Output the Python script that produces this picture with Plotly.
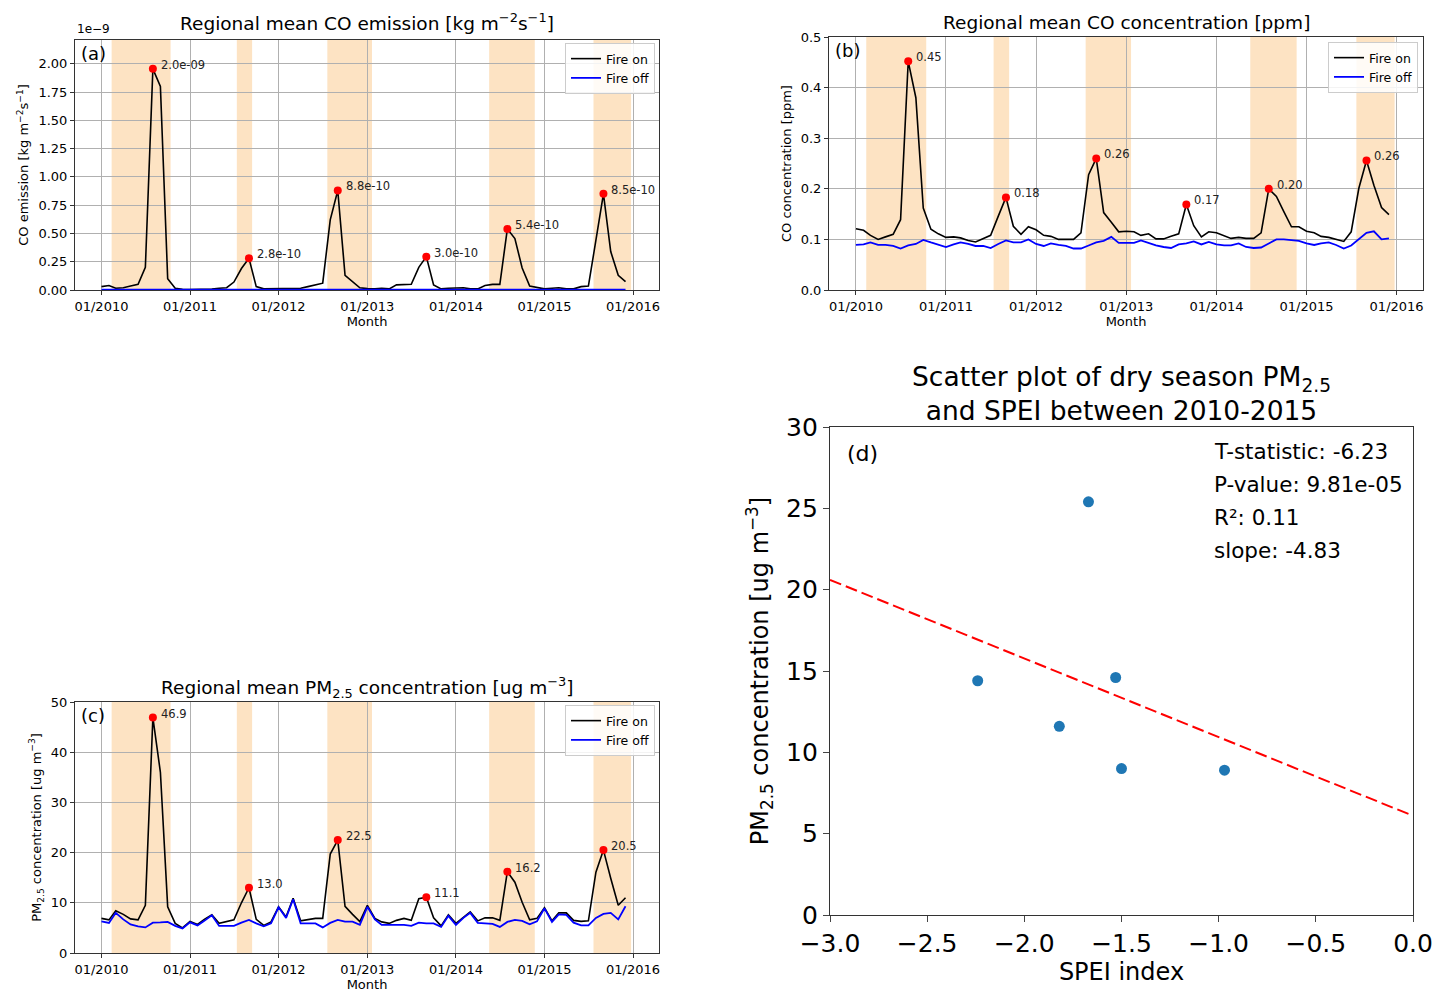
import pandas as pd
import plotly.graph_objects as go

months = pd.date_range("2010-01-01", periods=72, freq="MS")

# CO emission, in units of 1e-9 kg m-2 s-1
co_emis_on = [0.03, 0.04, 0.015, 0.02, 0.035, 0.05, 0.2, 1.955, 1.80, 0.10, 0.015, 0.006,
              0.005, 0.005, 0.005, 0.008, 0.015, 0.02, 0.07, 0.19, 0.28, 0.03, 0.01, 0.01,
              0.01, 0.01, 0.015, 0.015, 0.03, 0.045, 0.06, 0.62, 0.88, 0.13, 0.07, 0.02,
              0.012, 0.01, 0.015, 0.01, 0.045, 0.05, 0.05, 0.2, 0.295, 0.045, 0.01, 0.015,
              0.02, 0.02, 0.01, 0.01, 0.04, 0.05, 0.05, 0.54, 0.455, 0.195, 0.035, 0.025,
              0.01, 0.015, 0.02, 0.01, 0.01, 0.03, 0.035, 0.44, 0.85, 0.34, 0.13, 0.075]
co_emis_off = [0.004, 0.004, 0.004, 0.004, 0.004, 0.004, 0.004, 0.004, 0.004, 0.004, 0.004, 0.004,
               0.004, 0.004, 0.004, 0.004, 0.004, 0.004, 0.004, 0.004, 0.004, 0.004, 0.004, 0.004,
               0.004, 0.004, 0.004, 0.004, 0.004, 0.004, 0.004, 0.004, 0.004, 0.004, 0.004, 0.004,
               0.004, 0.004, 0.004, 0.004, 0.004, 0.004, 0.004, 0.004, 0.004, 0.004, 0.004, 0.004,
               0.004, 0.004, 0.004, 0.004, 0.004, 0.004, 0.004, 0.004, 0.004, 0.004, 0.004, 0.004,
               0.004, 0.004, 0.004, 0.004, 0.004, 0.004, 0.004, 0.004, 0.004, 0.004, 0.004, 0.004]

# CO concentration [ppm]
co_conc_on = [0.121, 0.118, 0.108, 0.100, 0.105, 0.110, 0.139, 0.452, 0.380, 0.162, 0.120, 0.111,
              0.104, 0.105, 0.103, 0.098, 0.095, 0.102, 0.108, 0.146, 0.183, 0.126, 0.110, 0.125,
              0.119, 0.108, 0.106, 0.100, 0.100, 0.100, 0.113, 0.228, 0.260, 0.153, 0.134, 0.115,
              0.116, 0.115, 0.108, 0.111, 0.101, 0.101, 0.106, 0.111, 0.169, 0.127, 0.105, 0.115,
              0.113, 0.108, 0.102, 0.104, 0.102, 0.102, 0.113, 0.200, 0.185, 0.155, 0.125, 0.125,
              0.116, 0.113, 0.106, 0.104, 0.100, 0.096, 0.115, 0.201, 0.256, 0.207, 0.163, 0.149]
co_conc_off = [0.089, 0.090, 0.094, 0.089, 0.089, 0.087, 0.082, 0.088, 0.091, 0.099, 0.094, 0.089,
               0.085, 0.090, 0.094, 0.091, 0.087, 0.087, 0.083, 0.091, 0.098, 0.094, 0.094, 0.100,
               0.091, 0.087, 0.092, 0.089, 0.087, 0.082, 0.082, 0.088, 0.094, 0.097, 0.105, 0.093,
               0.093, 0.093, 0.098, 0.093, 0.088, 0.085, 0.083, 0.090, 0.092, 0.096, 0.090, 0.095,
               0.090, 0.088, 0.088, 0.092, 0.085, 0.083, 0.084, 0.092, 0.100, 0.100, 0.099, 0.097,
               0.092, 0.089, 0.092, 0.094, 0.089, 0.082, 0.088, 0.100, 0.113, 0.116, 0.100, 0.102]

# PM2.5 concentration [ug m-3]
pm_on = [6.9, 6.6, 8.4, 7.7, 6.8, 6.6, 9.5, 46.9, 36.0, 9.2, 5.9, 5.0,
         6.3, 5.7, 6.7, 7.6, 5.9, 6.2, 6.6, 10.0, 13.0, 6.7, 5.5, 6.2,
         9.2, 7.2, 10.9, 6.4, 6.6, 6.9, 6.9, 19.7, 22.5, 9.3, 7.7, 6.25,
         9.5, 6.9, 6.2, 5.9, 6.5, 6.9, 6.5, 10.8, 11.1, 7.0, 5.4, 7.6,
         5.9, 7.2, 8.2, 6.4, 7.0, 7.0, 6.5, 16.2, 14.1, 10.1, 6.6, 6.9,
         9.0, 6.4, 8.0, 8.0, 6.5, 6.3, 6.4, 16.1, 20.5, 14.9, 9.5, 11.0]
pm_off = [6.3, 6.0, 8.0, 6.7, 5.7, 5.3, 5.1, 6.05, 6.1, 6.2, 5.4, 4.9,
          6.1, 5.5, 6.4, 7.5, 5.4, 5.4, 5.4, 6.05, 6.6, 5.9, 5.3, 5.9,
          9.1, 7.0, 10.7, 5.9, 5.9, 5.9, 5.1, 6.0, 6.6, 6.25, 6.25, 5.6,
          9.2, 6.7, 5.6, 5.6, 5.5, 5.6, 5.4, 6.05, 5.9, 5.9, 5.2, 7.4,
          5.6, 7.0, 8.0, 6.0, 5.9, 5.8, 5.2, 6.2, 6.6, 6.4, 5.7, 6.3,
          8.9, 6.2, 7.7, 7.6, 6.05, 5.5, 5.5, 7.0, 7.8, 8.0, 6.7, 9.3]

# dry season peaks (index into months)
peak_idx = [7, 20, 32, 44, 55, 68]

# drought periods (shaded)
dry_start = ["2010-02-12", "2011-07-13", "2012-07-20", "2014-05-18", "2015-07-22"]
dry_end = ["2010-10-13", "2011-09-14", "2013-01-20", "2014-11-22", "2015-12-24"]

# scatter (d)
spei = [-2.24, -1.82, -1.67, -1.53, -1.50, -0.97]
pm_dry = [14.4, 11.6, 25.4, 14.6, 9.0, 8.9]
fit_x = [-3.0, 0.0]
fit_y = [20.6, 6.1]
stats_text = ["T-statistic: -6.23", "P-value: 9.81e-05", "R\u00b2: 0.11", "slope: -4.83"]

FONT = "DejaVu Sans"
W, H = 1447, 1007
OFF = 8  # page body margin


def px_x(p):
    return (p - OFF) / W


def px_y(p):
    return 1 - (p - OFF) / H


dom = {
    "a": ([px_x(75), px_x(659)], [px_y(290), px_y(40)]),
    "b": ([px_x(829), px_x(1423)], [px_y(290), px_y(37)]),
    "c": ([px_x(75), px_x(659)], [px_y(953), px_y(702)]),
    "d": ([px_x(830), px_x(1413)], [px_y(915), px_y(427)]),
}

fig = go.Figure()

panels = [
    ("a", "", co_emis_on, co_emis_off, "legend", lambda v: f"{v * 1e-9:.1e}"),
    ("b", "2", co_conc_on, co_conc_off, "legend2", lambda v: f"{v:.2f}"),
    ("c", "3", pm_on, pm_off, "legend3", lambda v: f"{v:.1f}"),
]

for key, n, on, off, leg, fmt in panels:
    xa, ya = "x" + n, "y" + n
    fig.add_trace(go.Scatter(x=months, y=on, mode="lines", name="Fire on",
                             line=dict(color="black", width=1.6), xaxis=xa, yaxis=ya, legend=leg))
    fig.add_trace(go.Scatter(x=months, y=off, mode="lines", name="Fire off",
                             line=dict(color="blue", width=1.8), xaxis=xa, yaxis=ya, legend=leg))
    px_ = [months[i] for i in peak_idx]
    py_ = [on[i] for i in peak_idx]
    fig.add_trace(go.Scatter(x=px_, y=py_, mode="markers", marker=dict(color="red", size=8),
                             showlegend=False, xaxis=xa, yaxis=ya))
    for xv, yv in zip(px_, py_):
        fig.add_annotation(x=xv, y=yv, xref=xa, yref=ya, text=fmt(yv), showarrow=False,
                           xanchor="left", yanchor="middle", xshift=6, yshift=4,
                           font=dict(family=FONT, size=11.5, color="#222"))
    for s, e in zip(dry_start, dry_end):
        fig.add_shape(type="rect", x0=s, x1=e, y0=0, y1=1, xref=xa, yref=ya + " domain",
                      fillcolor="#fde3c3", line=dict(width=0), layer="below")

fig.add_trace(go.Scatter(x=fit_x, y=fit_y, mode="lines", showlegend=False,
                         line=dict(color="red", width=2, dash="12px,5px"), xaxis="x4", yaxis="y4"))
fig.add_trace(go.Scatter(x=spei, y=pm_dry, mode="markers", showlegend=False,
                         marker=dict(color="#1f77b4", size=11), xaxis="x4", yaxis="y4"))

time_x = dict(type="date", range=["2009-09-14", "2016-04-17"], tick0="2010-01-01", dtick="M12",
              tickformat="%m/%Y", showgrid=True, gridcolor="#b0b0b0", gridwidth=1,
              showline=True, linecolor="#333", linewidth=1, mirror=True, ticks="outside",
              ticklen=4, tickcolor="#333", tickfont=dict(size=13), zeroline=False, automargin=False,
              title=dict(text="Month", font=dict(size=13), standoff=4))
base_y = dict(showgrid=True, gridcolor="#b0b0b0", gridwidth=1, showline=True, linecolor="#333",
              linewidth=1, mirror=True, ticks="outside", ticklen=4, tickcolor="#333",
              tickfont=dict(size=13), zeroline=False, automargin=False)

fig.update_layout(
    width=W, height=H, margin=dict(l=0, r=0, t=0, b=0),
    paper_bgcolor="white", plot_bgcolor="white",
    font=dict(family=FONT, color="black"),
    xaxis=dict(time_x, domain=dom["a"][0], anchor="y"),
    yaxis=dict(base_y, domain=dom["a"][1], anchor="x", range=[0, 2.21], dtick=0.25, tickformat=".2f",
               title=dict(text="CO emission [kg m<sup>\u22122</sup>s<sup>\u22121</sup>]", font=dict(size=13), standoff=6)),
    xaxis2=dict(time_x, domain=dom["b"][0], anchor="y2"),
    yaxis2=dict(base_y, domain=dom["b"][1], anchor="x2", range=[0, 0.5], dtick=0.1, tickformat=".1f",
                title=dict(text="CO concentration [ppm]", font=dict(size=13), standoff=6)),
    xaxis3=dict(time_x, domain=dom["c"][0], anchor="y3"),
    yaxis3=dict(base_y, domain=dom["c"][1], anchor="x3", range=[0, 50], dtick=10,
                title=dict(text="PM<sub>2.5</sub> concentration [ug m<sup>\u22123</sup>]", font=dict(size=13), standoff=6)),
    xaxis4=dict(domain=dom["d"][0], anchor="y4", range=[-3, 0], dtick=0.5, tickformat=".1f",
                showgrid=False, showline=True, linecolor="#333", linewidth=1.2, mirror=True,
                ticks="outside", ticklen=6, tickfont=dict(size=25), zeroline=False, automargin=False,
                title=dict(text="SPEI index", font=dict(size=24), standoff=0)),
    yaxis4=dict(domain=dom["d"][1], anchor="x4", range=[0, 30], dtick=5,
                showgrid=False, showline=True, linecolor="#333", linewidth=1.2, mirror=True,
                ticks="outside", ticklen=6, tickfont=dict(size=25), zeroline=False, automargin=False,
                title=dict(text="PM<sub>2.5</sub> concentration [ug m<sup>\u22123</sup>]", font=dict(size=24), standoff=10)),
)

leg_style = dict(xanchor="right", yanchor="top", bgcolor="rgba(255,255,255,0.85)",
                 bordercolor="#cccccc", borderwidth=1, font=dict(size=12.5), itemwidth=30,
                 tracegroupgap=0)
fig.update_layout(
    legend=dict(leg_style, x=px_x(655), y=px_y(43)),
    legend2=dict(leg_style, x=px_x(1418), y=px_y(42)),
    legend3=dict(leg_style, x=px_x(655), y=px_y(705)),
)

titles = [
    ("a", "Regional mean CO emission [kg m<sup>\u22122</sup>s<sup>\u22121</sup>]", 22, 18.5),
    ("b", "Regional mean CO concentration [ppm]", 22, 18.5),
    ("c", "Regional mean PM<sub>2.5</sub> concentration [ug m<sup>\u22123</sup>]", 687, 18.5),
    ("d", "Scatter plot of dry season PM<sub>2.5</sub><br>and SPEI between 2010-2015", 393, 26.5),
]
for key, txt, yc, fs in titles:
    xd = dom[key][0]
    fig.add_annotation(x=(xd[0] + xd[1]) / 2, y=px_y(yc), xref="paper", yref="paper", text=txt,
                       showarrow=False, xanchor="center", yanchor="middle",
                       font=dict(family=FONT, size=fs, color="black"))

for n, lab, fs, lx, ly in [("", "(a)", 18, 0.006, 0.995), ("2", "(b)", 18, 0.006, 0.995),
                           ("3", "(c)", 18, 0.006, 0.995), ("4", "(d)", 22, 0.026, 0.975)]:
    fig.add_annotation(x=lx, y=ly, xref="x" + n + " domain", yref="y" + n + " domain", text=lab,
                       showarrow=False, xanchor="left", yanchor="top",
                       font=dict(family=FONT, size=fs, color="black"))

fig.add_annotation(x=px_x(75), y=px_y(29), xref="paper", yref="paper", text="1e\u22129",
                   showarrow=False, xanchor="left", yanchor="middle", font=dict(family=FONT, size=12))

for k, t in enumerate(stats_text):
    fig.add_annotation(x=0.655, y=0.949 - k * 0.0676, xref="x4 domain", yref="y4 domain", text=t,
                       showarrow=False, xanchor="left", yanchor="middle",
                       font=dict(family=FONT, size=21.5, color="black"))

fig.write_html("out.html")
